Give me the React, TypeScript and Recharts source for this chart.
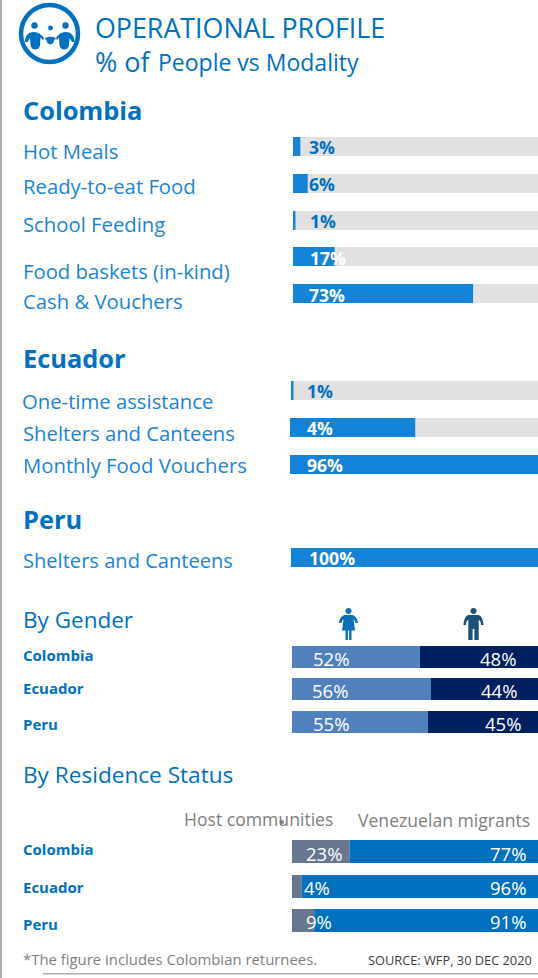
import React from "react";
import { BarChart, Bar, XAxis, YAxis, LabelList } from "recharts";

const colombiaCategories = ["Hot Meals", "Ready-to-eat Food", "School Feeding", "Food baskets (in-kind)", "Cash & Vouchers"];
const colombiaValues = [3, 6, 1, 17, 73.5];
const colombiaLabels = ["3%", "6%", "1%", "17%", "73%"];

const ecuadorCategories = ["One-time assistance", "Shelters and Canteens", "Monthly Food Vouchers"];
const ecuadorValues = [1, 50.5, 100];
const ecuadorLabels = ["1%", "4%", "96%"];

const peruCategories = ["Shelters and Canteens"];
const peruValues = [100];
const peruLabels = ["100%"];

const countries = ["Colombia", "Ecuador", "Peru"];
const womenValues = [52, 56.5, 55.3];
const menValues = [48, 43.5, 44.7];
const womenLabels = ["52%", "56%", "55%"];
const menLabels = ["48%", "44%", "45%"];

const hostValues = [23.5, 4, 9];
const migrantValues = [76.5, 96, 91];
const hostLabels = ["23%", "4%", "9%"];
const migrantLabels = ["77%", "96%", "91%"];

const FONT = "'Open Sans', 'Noto Sans', sans-serif";
const BLUE = "#0070c0";
const LIGHT = "#1a84d6";
const BAR = "#1283d6";

type Seg = { value: number; fill: string; label?: string; labelX?: number; labelBase?: number; labelColor?: string };

function Row({ top, left, width, height, segs, track, bold, size }: { top: number; left: number; width: number; height: number; segs: Seg[]; track?: string; bold?: boolean; size: number }) {
  const datum: Record<string, number | string> = { name: "row" };
  segs.forEach((s, i) => (datum["s" + i] = s.value));
  return (
    <div style={{ position: "absolute", left, top, width, height }}>
      <BarChart layout="vertical" width={width} height={height} data={[datum]} margin={{ top: 0, right: 0, bottom: 0, left: 0 }} barCategoryGap={0}>
        <XAxis type="number" domain={[0, 100]} hide />
        <YAxis type="category" dataKey="name" hide />
        {segs.map((s, i) => (
          <Bar key={i} dataKey={"s" + i} stackId="a" fill={s.fill} isAnimationActive={false} background={i === 0 && track ? { fill: track } : undefined}>
            <LabelList
              dataKey={"s" + i}
              content={() => (
                <text x={(s.labelX ?? 0) - left} y={(s.labelBase ?? 0) - top} fill={s.labelColor} fontFamily={FONT} fontSize={size} fontWeight={bold ? 700 : 400}>
                  {s.label}
                </text>
              )}
            />
          </Bar>
        ))}
      </BarChart>
    </div>
  );
}

const T = ({ x, y, size, color, bold, children }: { x: number; y: number; size: number; color: string; bold?: boolean; children: React.ReactNode }) => (
  <text x={x} y={y} fontSize={size} fill={color} fontWeight={bold ? 700 : 400} fontFamily={FONT}>{children}</text>
);

const Woman = ({ cx, fill }: { cx: number; fill: string }) => (
  <g transform={`translate(${cx},0)`} fill={fill}>
    <circle cx={0} cy={611} r={3} />
    <path d="M-3.5 615 H3.5 C6.5 615.5 9 618 9.5 623 H7 C6.7 621 6 620 5 619.5 L6.5 630.5 H3 V640 H0.6 V630.5 H-0.6 V640 H-3 V630.5 H-6.5 L-5 619.5 C-6 620 -6.7 621 -7 623 H-9.5 C-9 618 -6.5 615.5 -3.5 615 Z" />
  </g>
);
const Man = ({ cx, fill }: { cx: number; fill: string }) => (
  <g transform={`translate(${cx},0)`} fill={fill}>
    <circle cx={0} cy={611} r={3} />
    <path d="M-4.5 615 H4.5 C7.5 615.5 9.5 618 10 625 H7.5 C7.3 622 6.8 620.5 5.2 620 V640 H0.9 V629 H-0.9 V640 H-5.2 V620 C-6.8 620.5 -7.3 622 -7.5 625 H-10 C-9.5 618 -7.5 615.5 -4.5 615 Z" />
  </g>
);

export default function App() {
  const cBase = [154, 191, 228, 265, 302];
  const cTop = [137, 174, 211, 247, 284];
  const cLabelX = [309, 309, 310, 310, 309];
  const cTextY = [159, 194, 232, 279, 309];
  const eTop = [381, 418, 455];
  const eLeft = [291, 290, 290];
  const eBase = [398, 435, 472];
  const eTextY = [409, 441, 473];
  const gTop = [646, 678, 711];
  const gBase = [666, 698, 731];
  const gTextY = [661, 694, 730];
  const wX = [313, 312, 313];
  const mX = [480, 481, 485];
  const rTop = [840, 875, 909];
  const rBase = [861, 895, 929];
  const rTextY = [855, 893, 930];
  const hX = [306, 304, 306];

  return (
    <div style={{ position: "absolute", left: 0, top: 0, width: 538, height: 978, background: "#fff", overflow: "hidden" }}>
      <style>{".recharts-surface{overflow:visible}"}</style>
      <svg width={538} height={978} style={{ position: "absolute", left: 0, top: 0 }}>
        <rect x={0} y={0} width={2} height={978} fill="#a9a9a9" />
        <rect x={43} y={973} width={495} height={1.5} fill="#b0b0b0" />
        <circle cx={49.5} cy={33.5} r={28.5} fill="none" stroke={BLUE} strokeWidth={4.5} />
        <g fill={BLUE}>
          <circle cx={34.5} cy={25.5} r={3.2} />
          <circle cx={50.5} cy={28} r={2.4} />
          <circle cx={65.5} cy={25.5} r={3.2} />
          <path d="M25 42 C25 35 29 32 34 32 C38 32 41 34 44 38 L43 40 L40.5 37.5 L40 45 C39.5 51 31 51 30.5 45 L30 38 L27.5 42 Z" />
          <path d="M74.5 42 C74.5 35 70.5 32 65.5 32 C61.5 32 58.5 34 56 38 L57 40 L59 37.5 L59.5 45 C60 51 68.5 51 69 45 L69.5 38 L72 42 Z" />
          <path d="M45 38.5 C47 36 54 36 56 38.5 L55 40 L54 39.5 C54.5 46 46.5 46 46.5 39.5 L45.8 40 Z" />
        </g>
        <T x={95} y={38} size={26.8} color={BLUE}>OPERATIONAL PROFILE</T>
        <T x={95} y={72} size={27} color={BLUE}>% of</T>
        <T x={158} y={71} size={23} color={BLUE}>People vs Modality</T>
        <T x={23} y={120} size={25.4} color={BLUE} bold>Colombia</T>
        {colombiaCategories.map((c, i) => <T key={c} x={23} y={cTextY[i]} size={20.3} color={LIGHT}>{c}</T>)}
        <T x={23} y={368} size={25.4} color={BLUE} bold>Ecuador</T>
        {ecuadorCategories.map((c, i) => <T key={c} x={i === 0 ? 22 : 23} y={eTextY[i]} size={20.3} color={LIGHT}>{c}</T>)}
        <T x={23} y={529} size={25.4} color={BLUE} bold>Peru</T>
        {peruCategories.map((c) => <T key={c} x={23} y={568} size={20.1} color={LIGHT}>{c}</T>)}
        <T x={23} y={628} size={22.5} color={BLUE}>By Gender</T>
        {countries.map((c, i) => <T key={c} x={23} y={gTextY[i]} size={15} color={BLUE} bold>{c}</T>)}
        <T x={23} y={783} size={22.6} color={BLUE}>By Residence Status</T>
        <T x={184} y={826} size={17.6} color="#808080">Host communities</T>
        <T x={358} y={827} size={17.6} color="#808080">Venezuelan migrants</T>
        {countries.map((c, i) => <T key={c} x={23} y={rTextY[i]} size={15} color={BLUE} bold>{c}</T>)}
        <T x={23} y={965} size={14.9} color="#808080">*The figure includes Colombian returnees.</T>
        <T x={368} y={965} size={12.8} color="#404040">SOURCE: WFP, 30 DEC 2020</T>
        <Woman cx={348.5} fill="#0d6fb8" />
        <Man cx={473.5} fill="#1b4f7c" />
      </svg>

      {colombiaValues.map((v, i) => (
        <Row key={i} top={cTop[i]} left={293} width={245} height={19} track="#e1e1e1" bold size={17.6}
          segs={[{ value: v, fill: BAR, label: colombiaLabels[i], labelX: cLabelX[i], labelBase: cBase[i], labelColor: i < 3 ? BLUE : "#ffffff" }]} />
      ))}
      {ecuadorValues.map((v, i) => (
        <Row key={i} top={eTop[i]} left={eLeft[i]} width={538 - eLeft[i]} height={19} track="#e1e1e1" bold size={17.6}
          segs={[{ value: v, fill: BAR, label: ecuadorLabels[i], labelX: 307, labelBase: eBase[i], labelColor: i === 0 ? BLUE : "#ffffff" }]} />
      ))}
      {peruValues.map((v, i) => (
        <Row key={i} top={548} left={291} width={247} height={19} bold size={17.6}
          segs={[{ value: v, fill: BAR, label: peruLabels[i], labelX: 309, labelBase: 565, labelColor: "#ffffff" }]} />
      ))}
      {womenValues.map((v, i) => (
        <Row key={i} top={gTop[i]} left={292} width={246} height={22} size={18.5}
          segs={[
            { value: v, fill: "#5081bd", label: womenLabels[i], labelX: wX[i], labelBase: gBase[i], labelColor: "#ffffff" },
            { value: menValues[i], fill: "#00205f", label: menLabels[i], labelX: mX[i], labelBase: gBase[i], labelColor: "#ffffff" },
          ]} />
      ))}
      {hostValues.map((v, i) => (
        <Row key={i} top={rTop[i]} left={292} width={246} height={23} size={18.5}
          segs={[
            { value: v, fill: "#66778f", label: hostLabels[i], labelX: hX[i], labelBase: rBase[i], labelColor: "#ffffff" },
            { value: migrantValues[i], fill: BLUE, label: migrantLabels[i], labelX: 490, labelBase: rBase[i], labelColor: "#ffffff" },
          ]} />
      ))}
      <svg width={538} height={978} style={{ position: "absolute", left: 0, top: 0, pointerEvents: "none" }}>
        <path d="M282 819 l0.8 2.2 l2 -0.8 l-1.5 1.8 l1 2.2 l-2.3 -1.2 l-1.7 2 l0.3 -2.6 l-2 -1.2 l2.4 -0.4 Z" fill="#777" />
      </svg>
    </div>
  );
}
